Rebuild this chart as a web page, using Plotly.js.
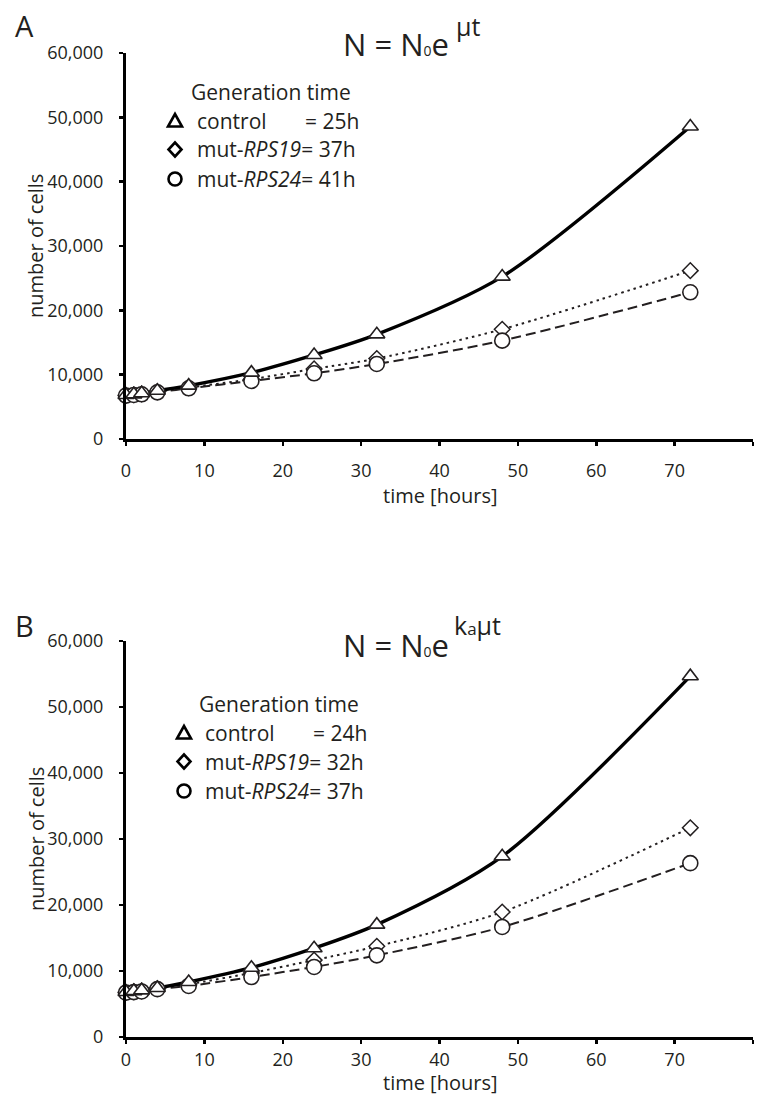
<!DOCTYPE html>
<html>
<head>
<meta charset="utf-8">
<script src="https://cdn.plot.ly/plotly-3.0.1.min.js"></script>
<style>html,body{margin:0;padding:0;background:#fff;}#chart{width:762px;height:1096px;}</style>
</head>
<body>
<div id="chart"></div>
<script>
// ---- data ----
const timeHours = [0, 1, 2, 4, 8, 16, 24, 32, 48, 72];

const controlA = [6840, 6940, 7100, 7510, 8290, 10310, 13060, 16270, 25240, 48570];
const rps19A   = [6800, 6880, 7000, 7350, 8000, 9300, 10900, 12500, 17060, 26170];
const rps24A   = [6750, 6850, 6950, 7250, 7880, 9020, 10210, 11660, 15290, 22810];

const controlB = [6820, 6950, 7070, 7420, 8330, 10500, 13450, 17020, 27370, 54670];
const rps19B   = [6780, 6880, 7000, 7350, 8000, 9700, 11650, 13740, 18940, 31700];
const rps24B   = [6720, 6800, 6900, 7250, 7730, 9090, 10610, 12370, 16670, 26340];

const yTicks = [0, 10000, 20000, 30000, 40000, 50000, 60000];
const xTicks = [0, 10, 20, 30, 40, 50, 60, 70, 80];

const genTimeA = ['25h', '37h', '41h'];
const genTimeB = ['24h', '32h', '37h'];

// ---- helpers ----
const W = 762, H = 1096;
const px = v => v / W;
const py = v => 1 - v / H;
const INK = '#231f20';
const FONT = 'Open Sans, Noto Sans, sans-serif';

function seriesTraces(ctrl, r19, r24, xa, ya) {
  const base = {x: timeHours, xaxis: xa, yaxis: ya, hoverinfo: 'skip', cliponaxis: false};
  return [
    Object.assign({}, base, {y: r24, mode: 'lines', line: {color: INK, width: 2, dash: '10px,5px', shape: 'spline', smoothing: 0.8}}),
    Object.assign({}, base, {y: r19, mode: 'lines', line: {color: INK, width: 2, dash: '2.5px,4px', shape: 'spline', smoothing: 0.8}}),
    Object.assign({}, base, {y: ctrl, mode: 'lines', line: {color: '#000', width: 3.4, shape: 'spline', smoothing: 0.8}}),
    Object.assign({}, base, {y: r19, mode: 'markers', marker: {symbol: 'diamond', size: 12, color: '#fff', line: {color: INK, width: 1.5}}}),
    Object.assign({}, base, {y: r24, mode: 'markers', marker: {symbol: 'circle', size: 15, color: '#fff', line: {color: INK, width: 1.6}}}),
    Object.assign({}, base, {y: ctrl, mode: 'markers', marker: {symbol: 'triangle-up', size: 14, color: '#fff', line: {color: INK, width: 1.6}}})
  ];
}

const data = [].concat(
  seriesTraces(controlA, rps19A, rps24A, 'x', 'y'),
  seriesTraces(controlB, rps19B, rps24B, 'x2', 'y2')
);

function xAxis(anchor, standoff) {
  return {
    domain: [px(126), px(753)], range: [0, 80], anchor: anchor,
    showline: true, linewidth: 3, linecolor: '#000', mirror: false,
    ticks: 'outside', ticklen: 4, tickwidth: 2.5, tickcolor: '#000',
    tickvals: xTicks, showgrid: false, zeroline: false,
    tickfont: {family: FONT, size: 18, color: INK},
    ticklabelstandoff: standoff, fixedrange: true
  };
}
function yAxis(anchor, top, bottom) {
  return {
    domain: [py(bottom), py(top)], range: [0, 60000], anchor: anchor,
    showline: true, linewidth: 3, linecolor: '#000',
    ticks: 'outside', ticklen: 4, tickwidth: 2.5, tickcolor: '#000',
    tickvals: yTicks, tickformat: ',d', showgrid: false, zeroline: false,
    tickfont: {family: FONT, size: 18, color: INK},
    ticklabelstandoff: 12, fixedrange: true
  };
}

function ann(text, x, y, size, opts) {
  return Object.assign({
    text: text, xref: 'paper', yref: 'paper', x: px(x), y: py(y),
    xanchor: 'left', yanchor: 'middle', showarrow: false,
    font: {family: FONT, size: size, color: INK}
  }, opts || {});
}

function legendBlock(lx, ty, gt) {
  const rows = [ty + 28.5, ty + 57.5, ty + 87];
  return [
    ann('Generation time', lx - 6, ty, 21),
    ann('control', lx, rows[0], 21),
    ann('= ' + gt[0], lx + 108, rows[0], 21),
    ann('mut-<i>RPS19</i>= ' + gt[1], lx, rows[1], 21),
    ann('mut-<i>RPS24</i>= ' + gt[2], lx, rows[2], 21)
  ];
}
function legendShapes(symX, ty) {
  const rows = [ty + 28.5, ty + 57.5, ty + 87];
  const common = {xref: 'paper', yref: 'paper', xsizemode: 'pixel', ysizemode: 'pixel',
                  line: {color: '#000', width: 2.6}, fillcolor: '#fff', layer: 'above'};
  return [
    Object.assign({}, common, {type: 'path', xanchor: px(symX), yanchor: py(rows[0]),
      path: 'M -7 -6 L 7 -6 L 0 6.5 Z'}),
    Object.assign({}, common, {type: 'path', xanchor: px(symX), yanchor: py(rows[1]),
      path: 'M 0 -7 L 6.5 0 L 0 7 L -6.5 0 Z'}),
    Object.assign({}, common, {type: 'circle', xanchor: px(symX), yanchor: py(rows[2]),
      x0: -6.5, x1: 6.5, y0: -6.5, y1: 6.5})
  ];
}

const EQ = 'N = N<span style="font-size:14px">0</span>e';

const annotations = [].concat(
  [
    ann('A', 13, 26, 29),
    ann('B', 13, 625, 29),
    ann(EQ, 341, 44, 31),
    ann('\u03bct', 454, 26, 25),
    ann(EQ, 341, 645, 31),
    ann('k<span style="font-size:17px">a</span>\u03bct', 452, 625, 25),
    ann('time [hours]', 440, 495, 20, {xanchor: 'center', borderpad: 0}),
    ann('time [hours]', 440, 1082.5, 20, {xanchor: 'center', borderpad: 0}),
    ann('number of cells', 36, 246, 20, {xanchor: 'center', textangle: -90}),
    ann('number of cells', 36, 839, 20, {xanchor: 'center', textangle: -90})
  ],
  legendBlock(195, 92, genTimeA),
  legendBlock(203, 704, genTimeB)
);

const layout = {
  width: W, height: H,
  margin: {l: 0, r: 0, t: 0, b: 0},
  paper_bgcolor: '#fff', plot_bgcolor: '#fff',
  showlegend: false,
  font: {family: FONT, color: INK},
  xaxis: xAxis('y', 9),
  yaxis: yAxis('x', 53, 439),
  xaxis2: xAxis('y2', 0),
  yaxis2: yAxis('x2', 641, 1037),
  annotations: annotations,
  shapes: [].concat(legendShapes(175, 92), legendShapes(184, 704))
};

Plotly.newPlot('chart', data, layout, {staticPlot: true, displayModeBar: false});
</script>
</body>
</html>
